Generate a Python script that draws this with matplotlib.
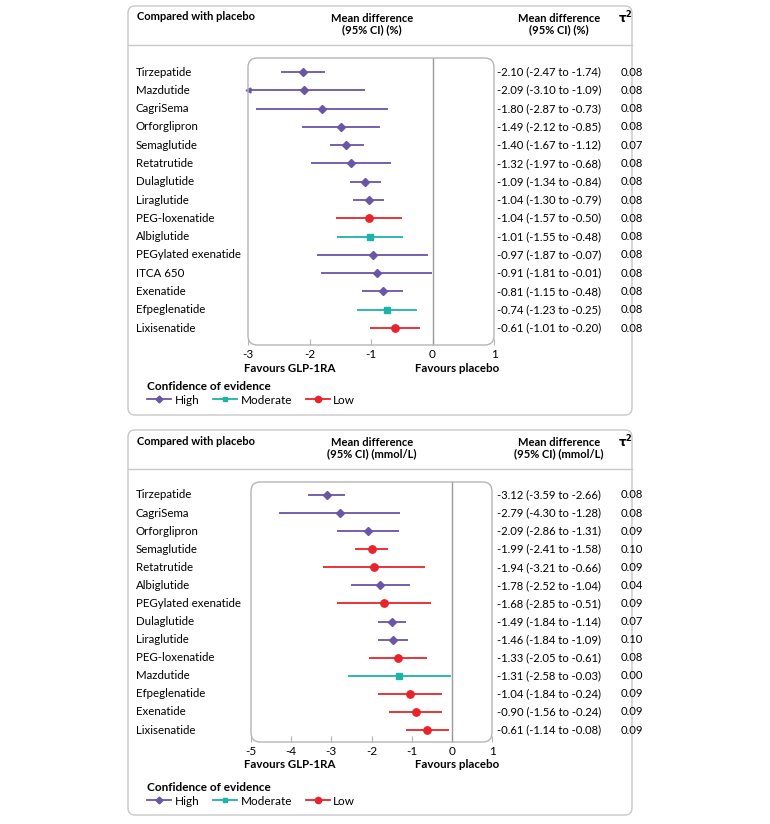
import matplotlib
matplotlib.use('Agg')
import matplotlib.pyplot as plt
from matplotlib.patches import FancyBboxPatch
from matplotlib.lines import Line2D

plt.rcParams['font.family'] = ['Lato', 'DejaVu Sans']

# --- data: HbA1c (%) ---
drugs1 = ['Tirzepatide', 'Mazdutide', 'CagriSema', 'Orforglipron', 'Semaglutide',
          'Retatrutide', 'Dulaglutide', 'Liraglutide', 'PEG-loxenatide', 'Albiglutide',
          'PEGylated exenatide', 'ITCA 650', 'Exenatide', 'Efpeglenatide', 'Lixisenatide']
md1 = [-2.10, -2.09, -1.80, -1.49, -1.40, -1.32, -1.09, -1.04, -1.04, -1.01, -0.97, -0.91, -0.81, -0.74, -0.61]
lo1 = [-2.47, -3.10, -2.87, -2.12, -1.67, -1.97, -1.34, -1.30, -1.57, -1.55, -1.87, -1.81, -1.15, -1.23, -1.01]
hi1 = [-1.74, -1.09, -0.73, -0.85, -1.12, -0.68, -0.84, -0.79, -0.50, -0.48, -0.07, -0.01, -0.48, -0.25, -0.20]
tau1 = [0.08, 0.08, 0.08, 0.08, 0.07, 0.08, 0.08, 0.08, 0.08, 0.08, 0.08, 0.08, 0.08, 0.08, 0.08]
conf1 = ['High', 'High', 'High', 'High', 'High', 'High', 'High', 'High', 'Low', 'Moderate',
         'High', 'High', 'High', 'Moderate', 'Low']

# --- data: fasting glucose (mmol/L) ---
drugs2 = ['Tirzepatide', 'CagriSema', 'Orforglipron', 'Semaglutide', 'Retatrutide',
          'Albiglutide', 'PEGylated exenatide', 'Dulaglutide', 'Liraglutide', 'PEG-loxenatide',
          'Mazdutide', 'Efpeglenatide', 'Exenatide', 'Lixisenatide']
md2 = [-3.12, -2.79, -2.09, -1.99, -1.94, -1.78, -1.68, -1.49, -1.46, -1.33, -1.31, -1.04, -0.90, -0.61]
lo2 = [-3.59, -4.30, -2.86, -2.41, -3.21, -2.52, -2.85, -1.84, -1.84, -2.05, -2.58, -1.84, -1.56, -1.14]
hi2 = [-2.66, -1.28, -1.31, -1.58, -0.66, -1.04, -0.51, -1.14, -1.09, -0.61, -0.03, -0.24, -0.24, -0.08]
tau2 = [0.08, 0.08, 0.09, 0.10, 0.09, 0.04, 0.09, 0.07, 0.10, 0.08, 0.00, 0.09, 0.09, 0.09]
conf2 = ['High', 'High', 'High', 'Low', 'Low', 'High', 'Low', 'High', 'High', 'Low',
         'Moderate', 'Low', 'Low', 'Low']

# colour, marker, marker size
styles = {'High': ('#6a55a6', 'D', 4.3),
          'Moderate': ('#1cb3a9', 's', 4.3),
          'Low': ('#e8242a', 'o', 5.3)}

W, H = 770, 824
fig = plt.figure(figsize=(W / 100, H / 100), dpi=100)

def fx(x):
    return x / W

def fy(y):
    return 1 - y / H

FS = 8.0
GRID = '#b5b5b5'


def panel(top, bottom, ax_left, ax_right, ax_top, ax_bot, row0, rowN, leg_y, xticks,
          drugs, md, lo, hi, tau, conf, unit):
    # outer box
    fig.patches.append(FancyBboxPatch((fx(128), fy(bottom)), fx(632) - fx(128), fy(top) - fy(bottom),
                                      boxstyle='round,pad=0,rounding_size=0.009',
                                      mutation_aspect=W / H, transform=fig.transFigure,
                                      fc='none', ec='#c8c8c8', lw=1.0))
    fig.add_artist(Line2D([fx(128), fx(632)], [fy(top + 39), fy(top + 39)], color='#c8c8c8', lw=1.0))
    # headers
    fig.text(fx(137), fy(top + 11), 'Compared with placebo', fontsize=FS, fontweight='bold', va='center')
    fig.text(fx(372), fy(top + 18), 'Mean difference\n(95% CI) (' + unit + ')', fontsize=FS,
             fontweight='bold', ha='center', va='center', linespacing=1.05)
    fig.text(fx(559), fy(top + 18), 'Mean difference\n(95% CI) (' + unit + ')', fontsize=FS,
             fontweight='bold', ha='center', va='center', linespacing=1.05)
    fig.text(fx(625), fy(top + 12), r'$\mathbf{\tau}^\mathbf{2}$', fontsize=FS + 0.5, ha='center', va='center')

    n = len(drugs)
    step = (rowN - row0) / (n - 1)
    ax = fig.add_axes([fx(ax_left), fy(ax_bot), fx(ax_right) - fx(ax_left), fy(ax_top) - fy(ax_bot)])
    ax.set_xlim(xticks[0], xticks[-1])
    ax.set_ylim(n - 1 + (ax_bot - rowN) / step, -(row0 - ax_top) / step)
    ax.patch.set_alpha(0)
    for s in ax.spines.values():
        s.set_visible(False)
    fig.patches.append(FancyBboxPatch((fx(ax_left), fy(ax_bot)), fx(ax_right) - fx(ax_left),
                                      fy(ax_top) - fy(ax_bot),
                                      boxstyle='round,pad=0,rounding_size=0.012',
                                      mutation_aspect=W / H, transform=fig.transFigure,
                                      fc='none', ec=GRID, lw=1.0))
    ax.axvline(0, color='#9a9a9a', lw=1.0)
    ax.set_yticks([])
    ax.set_xticks(xticks)
    ax.set_xticklabels(['%d' % t for t in xticks], fontsize=FS + 0.5)
    ax.tick_params(axis='x', direction='in', length=4, color=GRID, pad=3)

    xmin = xticks[0]
    for i in range(n):
        c, m, ms = styles[conf[i]]
        left = max(lo[i], xmin)
        ax.plot([left, hi[i]], [i, i], color=c, lw=1.3, solid_capstyle='butt', clip_on=False)
        if lo[i] < xmin:
            ax.plot([xmin], [i], marker='<', color=c, ms=3.5, clip_on=False)
        ax.plot([md[i]], [i], marker=m, color=c, ms=ms, clip_on=False, zorder=3)
        y = row0 + i * step
        fig.text(fx(136), fy(y), drugs[i], fontsize=FS + 0.3, va='center')
        fig.text(fx(497), fy(y), '%.2f (%.2f to %.2f)' % (md[i], lo[i], hi[i]),
                 fontsize=FS + 0.1, va='center')
        fig.text(fx(621), fy(y), '%.2f' % tau[i], fontsize=FS + 0.1, va='center')

    fig.text(fx(244), fy(ax_bot + 23), 'Favours GLP-1RA', fontsize=FS + 0.3, fontweight='bold', va='center')
    fig.text(fx(499), fy(ax_bot + 23), 'Favours placebo', fontsize=FS + 0.3, fontweight='bold',
             va='center', ha='right')

    handles = [Line2D([], [], color=styles[k][0], marker=styles[k][1], ms=styles[k][2] - 0.8, lw=1.3)
               for k in ['High', 'Moderate', 'Low']]
    fig.legend(handles, ['High', 'Moderate', 'Low'], ncol=3, frameon=False,
               loc='upper left', bbox_to_anchor=(fx(139), fy(leg_y)),
               fontsize=FS + 0.5, handlelength=2.0, handletextpad=0.3, columnspacing=1.2,
               title='Confidence of evidence', title_fontproperties={'weight': 'bold', 'size': FS + 0.5},
               alignment='left', borderpad=0.2, labelspacing=0.2)
    return ax


panel(6, 415, 248, 494, 58, 345, 72, 328, 373, [-3, -2, -1, 0, 1],
      drugs1, md1, lo1, hi1, tau1, conf1, '%')
panel(430, 815, 251, 492, 482, 742, 495, 730, 774, [-5, -4, -3, -2, -1, 0, 1],
      drugs2, md2, lo2, hi2, tau2, conf2, 'mmol/L')

fig.savefig('out.png', dpi=100)
